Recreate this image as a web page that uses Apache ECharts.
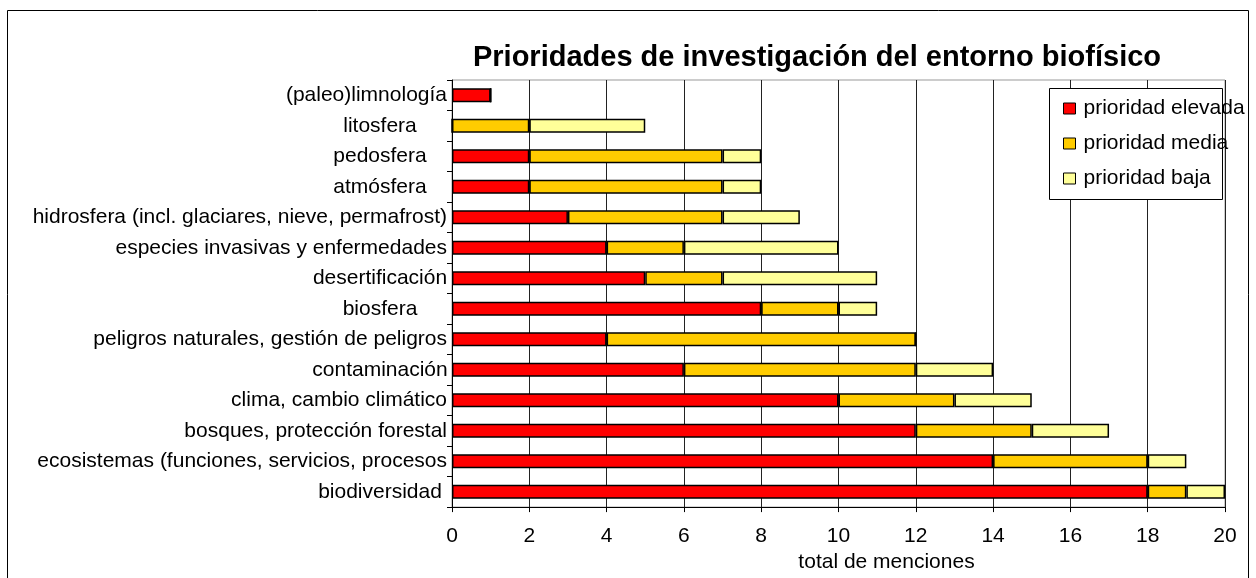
<!DOCTYPE html>
<html lang="es">
<head>
    <meta charset="utf-8" />
    <title>Prioridades de investigación</title>
    <script type="text/javascript" src="https://cdn.jsdelivr.net/npm/echarts@6/dist/echarts.min.js"></script>
    <style type="text/css">
        html, body { margin: 0; padding: 0; background: #fff; }
        #main { width: 1256px; height: 578px; }
    </style>
</head>
<body>
    <div id="main"></div>
    <script type="text/javascript">

        // categorias de arriba hacia abajo
        var categorias = [
            '(paleo)limnología',
            'litosfera',
            'pedosfera',
            'atmósfera',
            'hidrosfera (incl. glaciares, nieve, permafrost)',
            'especies invasivas y enfermedades',
            'desertificación',
            'biosfera',
            'peligros naturales, gestión de peligros',
            'contaminación',
            'clima, cambio climático',
            'bosques, protección forestal',
            'ecosistemas (funciones, servicios, procesos',
            'biodiversidad'
        ];
        var elevada = [1, 0, 2, 2, 3, 4, 5, 8, 4, 6, 10, 12, 14, 18];
        var media   = [0, 2, 5, 5, 4, 2, 2, 2, 8, 6, 3, 3, 4, 1];
        var baja    = [0, 3, 1, 1, 2, 4, 4, 1, 0, 2, 2, 2, 1, 1];
        var xTicks  = [0, 2, 4, 6, 8, 10, 12, 14, 16, 18, 20];

        var fuente = '"Liberation Sans", Arial, sans-serif';
        var myChart = echarts.init(document.getElementById('main'));

        function serie(nombre, color, datos) {
            return {
                name: nombre,
                type: 'bar',
                stack: 'total',
                barWidth: 14,
                data: datos,
                itemStyle: { color: color, borderColor: '#000', borderWidth: 1.5 }
            };
        }

        var option = {
            animation: false,
            backgroundColor: '#fff',
            textStyle: { fontFamily: fuente, color: '#000' },
            graphic: [{
                // borde exterior del grafico
                type: 'rect',
                z: 0,
                shape: { x: 7.5, y: 10.5, width: 1241, height: 580 },
                style: { fill: 'none', stroke: '#000', lineWidth: 1 },
                silent: true
            }, {
                // caja de la leyenda (el texto sobresale como en el original)
                type: 'rect',
                z: 10,
                shape: { x: 1049.5, y: 88.5, width: 173, height: 111 },
                style: { fill: '#fff', stroke: '#000', lineWidth: 1 },
                silent: true
            }],
            title: {
                text: 'Prioridades de investigación del entorno biofísico',
                left: 812,
                top: 38,
                textAlign: 'center',
                textStyle: { fontFamily: fuente, fontSize: 29, fontWeight: 'bold', color: '#000' }
            },
            legend: {
                orient: 'vertical',
                left: 1063,
                top: 98,
                z: 20,
                padding: 0,
                itemGap: 14,
                itemWidth: 12,
                itemHeight: 11,
                icon: 'rect',
                itemStyle: { borderColor: '#000', borderWidth: 1 },
                textStyle: { fontFamily: fuente, fontSize: 21, color: '#000', padding: [0, 0, 0, 3] },
                data: ['prioridad elevada', 'prioridad media', 'prioridad baja']
            },
            grid: {
                left: 452,
                right: 31,
                top: 80,
                bottom: 68,
                show: true,
                borderColor: '#999',
                borderWidth: 1
            },
            xAxis: {
                type: 'value',
                min: 0,
                max: 20,
                interval: 2,
                name: 'total de menciones',
                nameLocation: 'middle',
                nameGap: 43,
                nameTextStyle: { fontFamily: fuente, fontSize: 21, color: '#000', padding: [0, 0, 0, 96] },
                axisLine: { show: true, lineStyle: { color: '#000', width: 1 } },
                axisTick: { show: true, length: 5, lineStyle: { color: '#000' } },
                axisLabel: {
                    fontFamily: fuente, fontSize: 21, color: '#000', margin: 19,
                    formatter: function (v) { return xTicks.indexOf(v) >= 0 ? String(v) : ''; }
                },
                splitLine: { show: true, lineStyle: { color: '#222', width: 1 } }
            },
            yAxis: {
                type: 'category',
                inverse: true,
                data: categorias,
                axisLine: { show: true, lineStyle: { color: '#000', width: 1 } },
                axisTick: { show: true, length: 5, lineStyle: { color: '#000' } },
                axisLabel: {
                    fontFamily: fuente, fontSize: 21, color: '#000', margin: 5, align: 'right',
                    formatter: function (v) {
                        return v.length > 15 ? '{r|' + v + '}' : '{c|' + v + '}';
                    },
                    rich: {
                        c: { fontFamily: fuente, fontSize: 21, color: '#000', width: 134, align: 'center' },
                        r: { fontFamily: fuente, fontSize: 21, color: '#000', align: 'right' }
                    }
                },
                splitLine: { show: false }
            },
            series: [
                serie('prioridad elevada', '#ff0000', elevada),
                serie('prioridad media', '#ffcc00', media),
                serie('prioridad baja', '#ffff99', baja)
            ]
        };
        myChart.setOption(option);
    </script>
</body>
</html>
